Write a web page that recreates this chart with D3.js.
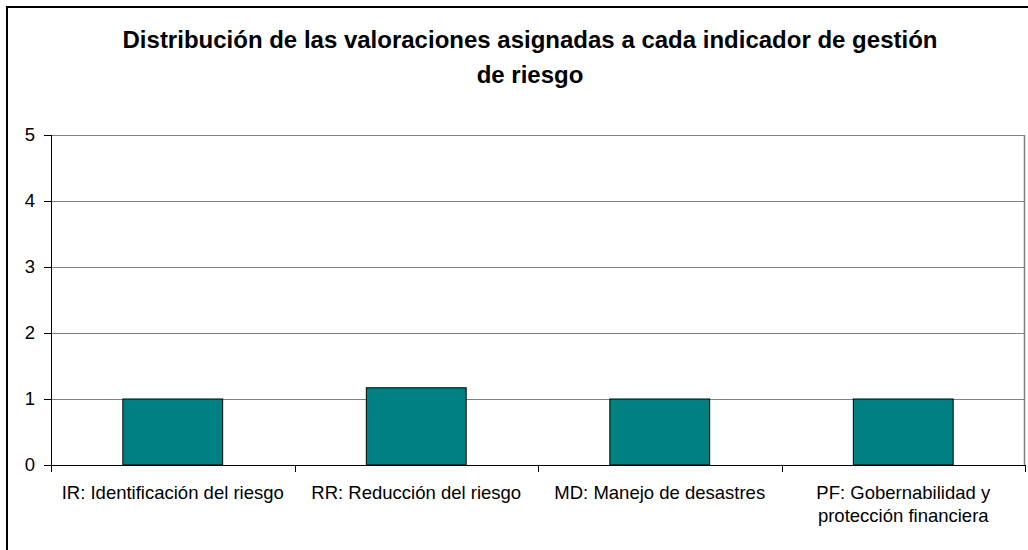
<!DOCTYPE html>
<html lang="es">
<head>
    <meta charset="UTF-8">
    <script src="https://d3js.org/d3.v7.min.js"></script>
    <title>Bar-chart</title>
    <style>
        body {
            margin: 0;
            font-family: Arial, "Liberation Sans", sans-serif;
            background: #fff;
        }
        text {
            fill: #000;
        }
    </style>
</head>

<body>
<div id="my_dataviz"></div>
<script>

    // data
    var categories = ["IR", "RR", "MD", "PF"];
    var labels = [
        ["IR: Identificación del riesgo"],
        ["RR: Reducción del riesgo"],
        ["MD: Manejo de desastres"],
        ["PF: Gobernabilidad y", "protección financiera"]
    ];
    var values = [1, 1.17, 1, 1];
    var yTicks = [0, 1, 2, 3, 4, 5];
    var titleLines = [
        "Distribución de las valoraciones asignadas a cada indicador de gestión",
        "de riesgo"
    ];

    // dimensions
    var W = 1028, H = 550;
    var margin = {top: 135, right: 3, bottom: 85, left: 51},
        width = W - margin.left - margin.right,
        height = H - margin.top - margin.bottom;

    var root = d3.select("#my_dataviz")
        .append("svg")
        .attr("width", W)
        .attr("height", H);

    // outer chart border
    root.append("rect")
        .attr("x", 7)
        .attr("y", 7)
        .attr("width", W + 20)
        .attr("height", H + 20)
        .attr("fill", "white")
        .attr("stroke", "black")
        .attr("stroke-width", 2);

    // title
    root.append("text")
        .attr("x", 530)
        .attr("y", 48)
        .attr("text-anchor", "middle")
        .style("font-size", "24px")
        .style("font-weight", "bold")
        .selectAll("tspan")
        .data(titleLines)
        .enter().append("tspan")
        .attr("x", 530)
        .attr("dy", function(d, i) { return i === 0 ? 0 : 35; })
        .text(function(d) { return d; });

    var svg = root.append("g")
        .attr("transform", "translate(" + margin.left + "," + margin.top + ")");

    // scales
    var x = d3.scaleBand()
        .domain(categories)
        .range([0, width])
        .paddingInner(0.59)
        .paddingOuter(0.295);

    var xCat = d3.scaleBand()
        .domain(categories)
        .range([0, width]);

    var y = d3.scaleLinear()
        .domain([0, 5])
        .range([height, 0]);

    // gridlines
    svg.append("g")
        .selectAll("line")
        .data(yTicks.slice(1))
        .enter().append("line")
        .attr("x1", 0)
        .attr("x2", width)
        .attr("y1", function(d) { return Math.round(y(d)) + 0.5; })
        .attr("y2", function(d) { return Math.round(y(d)) + 0.5; })
        .attr("stroke", "#808080")
        .attr("stroke-width", 1);

    // right border of plot area
    svg.append("line")
        .attr("x1", width - 0.5)
        .attr("x2", width - 0.5)
        .attr("y1", y(5))
        .attr("y2", height)
        .attr("stroke", "#808080")
        .attr("stroke-width", 1.5);

    // bars
    svg.selectAll("rect.bar")
        .data(values)
        .enter().append("rect")
        .attr("class", "bar")
        .attr("x", function(d, i) { return x(categories[i]); })
        .attr("width", x.bandwidth())
        .attr("y", function(d) { return y(d); })
        .attr("height", function(d) { return height - y(d); })
        .attr("fill", "#008080")
        .attr("stroke", "black")
        .attr("stroke-width", 1);

    // Y axis
    var yAxis = svg.append("g")
        .call(d3.axisLeft(y).tickValues(yTicks).tickSize(7).tickPadding(9).tickFormat(d3.format("d")));
    yAxis.selectAll("text").style("font-size", "18.5px").style("font-family", "Arial, 'Liberation Sans', sans-serif");
    yAxis.select(".domain").attr("stroke", "black").attr("d", "M0.5," + y(5) + "V" + height);

    // X axis with ticks between categories
    var xAxis = svg.append("g")
        .attr("transform", "translate(0," + height + ")");
    xAxis.append("line")
        .attr("x1", 0)
        .attr("x2", width)
        .attr("y1", 0.5)
        .attr("y2", 0.5)
        .attr("stroke", "black");
    xAxis.selectAll("line.tick")
        .data(categories.concat(["end"]))
        .enter().append("line")
        .attr("class", "tick")
        .attr("x1", function(d, i) { return Math.round(i * xCat.step()) + 0.5; })
        .attr("x2", function(d, i) { return Math.round(i * xCat.step()) + 0.5; })
        .attr("y1", 0)
        .attr("y2", 7)
        .attr("stroke", "black");

    xAxis.selectAll("text.lab")
        .data(labels)
        .enter().append("text")
        .attr("class", "lab")
        .attr("text-anchor", "middle")
        .attr("y", 34)
        .style("font-size", "18.5px")
        .each(function(d, i) {
            var cx = xCat(categories[i]) + xCat.bandwidth() / 2;
            d3.select(this).selectAll("tspan")
                .data(d)
                .enter().append("tspan")
                .attr("x", cx)
                .attr("dy", function(t, j) { return j === 0 ? 0 : 23; })
                .text(function(t) { return t; });
        });

</script>
</body>
</html>
